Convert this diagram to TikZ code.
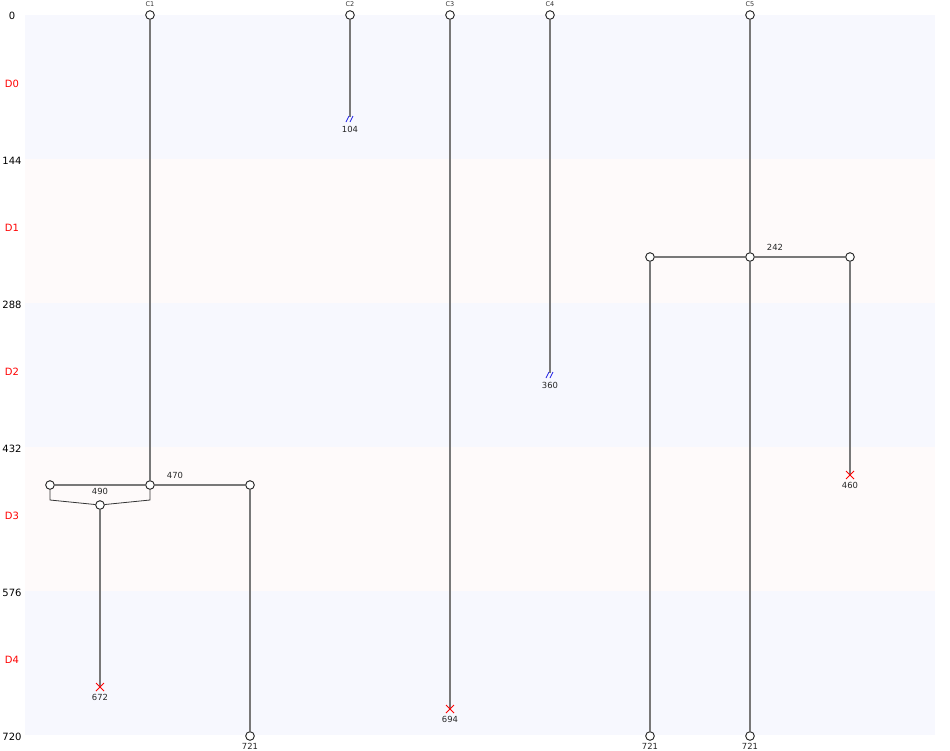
\documentclass[tikz,border=0pt]{standalone}
\usepackage{fontspec}
\setmainfont{DejaVu Sans}
\definecolor{bandA}{RGB}{247,248,254}
\definecolor{bandB}{RGB}{254,250,250}
\definecolor{linegray}{RGB}{120,120,120}
\definecolor{brk}{RGB}{30,30,230}
\begin{document}
\begin{tikzpicture}[x=1pt,y=-1pt,
  life/.style={draw=linegray,line width=1.6pt},
  merge/.style={draw=black!80,line width=0.8pt},
  pt/.style={circle,draw=black!85,fill=white,line width=0.8pt,minimum size=8.5pt,inner sep=0pt},
  axlab/.style={font=\fontsize{10}{12}\selectfont,text=black},
  dlab/.style={font=\fontsize{10}{12}\selectfont,text=red},
  small/.style={font=\fontsize{8.4}{10}\selectfont,text=black!85},
  clab/.style={font=\fontsize{6.5}{8}\selectfont,text=black!80},
  cross/.style={draw=red,line width=0.8pt},
  brkmark/.style={draw=brk,line width=0.8pt}]
\useasboundingbox (0,0) rectangle (950,750);
% bands
\fill[bandA] (25,15) rectangle (935,159);
\fill[bandB] (25,159) rectangle (935,303);
\fill[bandA] (25,303) rectangle (935,447);
\fill[bandB] (25,447) rectangle (935,591);
\fill[bandA] (25,591) rectangle (935,735);
% axis labels
\node[axlab] (t0) at (12,16) {0};
\node[axlab] (t144) at (12,161) {144};
\node[axlab] (t288) at (12,305) {288};
\node[axlab] (t432) at (12,449) {432};
\node[axlab] (t576) at (12,593) {576};
\node[axlab] (t720) at (12,737) {720};
\node[dlab] (d0) at (12,84) {D0};
\node[dlab] (d1) at (12,228) {D1};
\node[dlab] (d2) at (12,372) {D2};
\node[dlab] (d3) at (12,516) {D3};
\node[dlab] (d4) at (12,660) {D4};
% nodes
\node[pt] (c1) at (150,15) {};
\node[pt] (c2) at (350,15) {};
\node[pt] (c3) at (450,15) {};
\node[pt] (c4) at (550,15) {};
\node[pt] (c5) at (750,15) {};
\node[clab,above] (lc1) at (150,10.5) {C1};
\node[clab,above] (lc2) at (350,10.5) {C2};
\node[clab,above] (lc3) at (450,10.5) {C3};
\node[clab,above] (lc4) at (550,10.5) {C4};
\node[clab,above] (lc5) at (750,10.5) {C5};
% end points
\coordinate (e2) at (350,119);
\coordinate (e4) at (550,375);
\coordinate (e3) at (450,709);
\coordinate (e6) at (100,687);
\coordinate (e9) at (850,475);
% C5 branch
\node[pt] (b5) at (750,257) {};
\node[pt] (b5l) at (650,257) {};
\node[pt] (b5r) at (850,257) {};
\node[pt] (f5l) at (650,736) {};
\node[pt] (f5) at (750,736) {};
% C1 branch
\node[pt] (b1) at (150,485) {};
\node[pt] (b1l) at (50,485) {};
\node[pt] (b1r) at (250,485) {};
\node[pt] (m1) at (100,505) {};
\node[pt] (f1r) at (250,736) {};
% lifelines
\draw[life] (c1) -- (b1);
\draw[life] (c2) -- ([yshift=2pt]e2);
\draw[life] (c3) -- (e3);
\draw[life] (c4) -- ([yshift=2pt]e4);
\draw[life] (c5) -- (b5);
\draw[life] (b5l) -- (b5) -- (b5r);
\draw[life] (b5l) -- (f5l);
\draw[life] (b5) -- (f5);
\draw[life] (b5r) -- (e9);
\draw[life] (b1l) -- (b1) -- (b1r);
\draw[life] (b1r) -- (f1r);
\draw[life] (m1) -- (e6);
\draw[merge] (b1l) -- (50,500) -- (m1);
\draw[merge] (b1) -- (150,500) -- (m1);
% redraw node circles on top
\foreach \n in {c1,c2,c3,c4,c5,b5,b5l,b5r,f5l,f5,b1,b1l,b1r,m1,f1r}
  \draw[black!85,fill=white,line width=0.8pt] (\n) circle (4.25pt);
% break marks
\draw[brkmark] ([xshift=-4pt,yshift=-3pt]e2) -- ([xshift=-1pt,yshift=3pt]e2);
\draw[brkmark] ([xshift=0pt,yshift=-3pt]e2) -- ([xshift=3pt,yshift=3pt]e2);
\draw[brkmark] ([xshift=-4pt,yshift=-3pt]e4) -- ([xshift=-1pt,yshift=3pt]e4);
\draw[brkmark] ([xshift=0pt,yshift=-3pt]e4) -- ([xshift=3pt,yshift=3pt]e4);
% crosses
\foreach \e in {e3,e6,e9}
  \draw[cross] ([shift={(-4pt,-4pt)}]\e) -- ([shift={(4pt,4pt)}]\e)
               ([shift={(-4pt,4pt)}]\e) -- ([shift={(4pt,-4pt)}]\e);
% small labels
\node[small] (l104) at (350,129) {104};
\node[small] (l360) at (550,385) {360};
\node[small] (l694) at (450,719) {694};
\node[small] (l672) at (100,697) {672};
\node[small] (l460) at (850,485) {460};
\node[small] (l721a) at (250,746) {721};
\node[small] (l721b) at (650,746) {721};
\node[small] (l721c) at (750,746) {721};
\node[small] (l470) at (175,475) {470};
\node[small] (l490) at (100,491) {490};
\node[small] (l242) at (775,247) {242};
\end{tikzpicture}
\end{document}
